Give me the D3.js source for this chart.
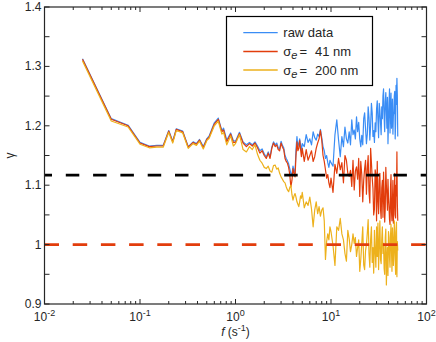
<!DOCTYPE html>
<html lang="en">
<head>
<meta charset="UTF-8">
<title>gamma vs f</title>
<style>
  body { margin: 0; background: #fff; }
  text { font-family: "Liberation Sans", Arial, sans-serif; fill: #262626; }
</style>
</head>
<body>
<svg id="chart" width="436" height="342"></svg>
<script src="https://cdn.jsdelivr.net/npm/d3@7"></script>
<script>
// frequencies (s^-1)
const freq = [
  0.025, 0.05, 0.075, 0.1, 0.125, 0.15, 0.175, 0.2, 0.22, 0.24, 0.28, 0.32, 0.36, 0.39, 0.42, 0.46, 0.5, 0.53, 0.6, 0.66, 0.72, 0.75, 0.81, 0.89, 0.95,
  1.0, 1.1, 1.2, 1.3, 1.4, 1.5, 1.6, 1.7, 1.8, 1.9, 2.0, 2.1, 2.2, 2.3, 2.4, 2.5, 2.6, 2.7, 2.8, 2.9, 3.0, 3.1, 3.2, 3.3, 3.4, 3.5, 3.6, 3.7, 3.8, 3.9, 4.0, 4.1, 4.2, 4.3, 4.4, 4.5, 4.6, 4.7, 4.8, 4.9, 5.0,
  5.25, 5.5, 5.75, 6.0, 6.25, 6.5, 6.75, 7.0, 7.25, 7.5, 7.75, 8.0, 8.25, 8.5, 8.75, 9.0, 9.25, 9.5, 9.75, 10,
  10.5, 11, 11.5, 12, 12.5, 13, 13.5, 14, 14.5, 15, 15.5, 16, 16.5, 17, 17.5, 18, 18.5, 19, 19.5, 20,
  20.5, 21, 21.5, 22, 22.5, 23, 23.5, 24, 24.5, 25, 25.5, 26, 26.5, 27, 27.5, 28, 28.5, 29, 29.5, 30,
  30.5, 31, 31.5, 32, 32.5, 33, 33.5, 34, 34.5, 35, 35.5, 36, 36.5, 37, 37.5, 38, 38.5, 39, 39.5, 40,
  40.5, 41, 41.5, 42, 42.5, 43, 43.5, 44, 44.5, 45, 45.5, 46, 46.5, 47, 47.5, 48, 48.5, 49, 49.5, 50
];

const rawData = [
  1.313, 1.212, 1.201, 1.172, 1.166, 1.167, 1.167, 1.192, 1.174, 1.195, 1.191, 1.165, 1.173, 1.170, 1.177, 1.165, 1.178, 1.183, 1.205, 1.213, 1.192, 1.196, 1.176, 1.188, 1.175,
  1.174, 1.189, 1.173, 1.168, 1.172, 1.168, 1.173, 1.166, 1.158, 1.161, 1.153, 1.147, 1.156, 1.148, 1.164, 1.173, 1.168, 1.171, 1.163, 1.161, 1.174, 1.167, 1.163, 1.150, 1.145, 1.141, 1.136, 1.128, 1.120, 1.118, 1.132, 1.125, 1.121, 1.160, 1.182, 1.165, 1.170, 1.178, 1.168, 1.158, 1.170,
  1.165, 1.185, 1.172, 1.178, 1.168, 1.190, 1.180, 1.176, 1.186, 1.182, 1.194, 1.180, 1.165, 1.158, 1.145, 1.150, 1.138, 1.130, 1.142, 1.138,
  1.132, 1.185, 1.210, 1.176, 1.148, 1.182, 1.165, 1.198, 1.178, 1.171, 1.190, 1.168, 1.210, 1.185, 1.193, 1.178, 1.215, 1.190, 1.206, 1.178,
  1.165, 1.184, 1.168, 1.212, 1.222, 1.195, 1.170, 1.186, 1.232, 1.214, 1.176, 1.200, 1.238, 1.222, 1.182, 1.192, 1.172, 1.205, 1.190, 1.228,
  1.242, 1.210, 1.180, 1.238, 1.226, 1.205, 1.185, 1.232, 1.212, 1.250, 1.262, 1.215, 1.190, 1.240, 1.256, 1.225, 1.196, 1.248, 1.170, 1.205,
  1.238, 1.262, 1.188, 1.230, 1.255, 1.196, 1.210, 1.245, 1.186, 1.218, 1.222, 1.250, 1.258, 1.178, 1.205, 1.268, 1.236, 1.280, 1.250, 1.182
];

const sigma41 = [
  1.312, 1.211, 1.200, 1.171, 1.165, 1.166, 1.166, 1.191, 1.173, 1.194, 1.190, 1.164, 1.172, 1.169, 1.176, 1.163, 1.177, 1.181, 1.203, 1.211, 1.190, 1.193, 1.173, 1.186, 1.172,
  1.172, 1.187, 1.171, 1.165, 1.170, 1.166, 1.171, 1.163, 1.154, 1.158, 1.150, 1.145, 1.154, 1.145, 1.162, 1.171, 1.165, 1.168, 1.160, 1.158, 1.171, 1.164, 1.160, 1.145, 1.140, 1.137, 1.130, 1.118, 1.097, 1.108, 1.128, 1.120, 1.114, 1.150, 1.173, 1.158, 1.162, 1.175, 1.160, 1.148, 1.162,
  1.140, 1.160, 1.142, 1.150, 1.158, 1.140, 1.148, 1.162, 1.171, 1.178, 1.192, 1.176, 1.150, 1.140, 1.126, 1.112, 1.118, 1.104, 1.096, 1.112,
  1.088, 1.135, 1.120, 1.145, 1.126, 1.138, 1.104, 1.150, 1.142, 1.120, 1.115, 1.125, 1.098, 1.142, 1.092, 1.124, 1.131, 1.110, 1.145, 1.081,
  1.140, 1.118, 1.072, 1.108, 1.128, 1.142, 1.085, 1.128, 1.150, 1.090, 1.070, 1.162, 1.138, 1.112, 1.095, 1.050, 1.060, 1.126, 1.118, 1.040,
  1.140, 1.075, 1.052, 1.110, 1.120, 1.060, 1.044, 1.095, 1.108, 1.046, 1.122, 1.088, 1.038, 1.062, 1.130, 1.100, 1.080, 1.058, 1.110, 1.080,
  1.064, 1.042, 1.034, 1.096, 1.118, 1.055, 1.040, 1.072, 1.108, 1.036, 1.060, 1.085, 1.120, 1.050, 1.045, 1.100, 1.082, 1.156, 1.070, 1.040
];

const sigma200 = [
  1.309, 1.208, 1.198, 1.169, 1.163, 1.164, 1.164, 1.189, 1.171, 1.192, 1.188, 1.162, 1.170, 1.167, 1.174, 1.161, 1.175, 1.179, 1.200, 1.208, 1.186, 1.189, 1.168, 1.183, 1.166,
  1.170, 1.185, 1.160, 1.156, 1.165, 1.160, 1.168, 1.152, 1.142, 1.137, 1.130, 1.128, 1.132, 1.124, 1.122, 1.133, 1.134, 1.127, 1.129, 1.120, 1.114, 1.110, 1.106, 1.104, 1.097, 1.092, 1.089, 1.096, 1.100, 1.084, 1.075, 1.082, 1.086, 1.080, 1.072, 1.068, 1.064, 1.072, 1.082, 1.078, 1.088,
  1.062, 1.072, 1.066, 1.080, 1.060, 1.030, 1.058, 1.072, 1.052, 1.064, 1.048, 1.058, 1.062, 1.040, 0.975, 1.005, 1.018, 1.008, 1.030, 1.022,
  0.998, 0.965, 1.030, 1.024, 1.044, 1.018, 1.008, 0.985, 0.972, 1.024, 1.010, 0.988, 1.000, 1.018, 1.002, 1.012, 0.980, 0.995, 1.008, 0.955,
  0.975, 1.002, 1.030, 0.966, 0.958, 0.990, 1.000, 1.020, 1.042, 0.985, 0.962, 1.008, 1.030, 0.970, 0.995, 0.952, 1.024, 0.988, 0.962, 1.030,
  0.980, 1.036, 0.958, 1.002, 1.040, 0.975, 0.968, 1.010, 1.030, 0.985, 1.002, 0.960, 0.950, 1.012, 1.026, 0.932, 0.970, 0.995, 0.948, 1.022,
  1.012, 0.978, 0.962, 1.015, 1.034, 0.990, 0.955, 1.028, 1.010, 0.965, 0.985, 1.040, 1.022, 0.975, 0.950, 1.020, 1.038, 0.946, 1.005, 0.990
];

const seriesNames = ["raw data", "41 nm", "200 nm"];
const seriesColors = ["#3a8df5", "#e23d0c", "#edb11c"];
const xExponents = [-2, -1, 0, 1, 2];
const yTicks = [0.9, 1, 1.1, 1.2, 1.3, 1.4];
const refLevels = [1.117, 1.0]; // black dashed, red dashed

const margin = { top: 7, right: 9.5, bottom: 38, left: 44.5 };
const W = 436, H = 342;
const svg = d3.select("#chart");

const x = d3.scaleLog().domain([0.01, 100]).range([margin.left, W - margin.right]);
const y = d3.scaleLinear().domain([0.9, 1.4]).range([H - margin.bottom, margin.top]);

const axisColor = "#262626";
const x0 = x.range()[0], x1 = x.range()[1];
const y0 = y.range()[0], y1 = y.range()[1];

// data lines
const line = d3.line().x(d => x(d[0])).y(d => y(d[1]));
[rawData, sigma41, sigma200].forEach((vals, i) => {
  svg.append("path")
    .datum(freq.map((f, j) => [f, vals[j]]))
    .attr("fill", "none")
    .attr("stroke", seriesColors[i])
    .attr("stroke-width", 1.2)
    .attr("stroke-linejoin", "round")
    .attr("d", line);
});

// reference dashed lines
svg.append("line")
  .attr("x1", x0).attr("x2", x1)
  .attr("y1", y(refLevels[0])).attr("y2", y(refLevels[0]))
  .attr("stroke", "#000").attr("stroke-width", 2.6)
  .attr("stroke-dasharray", "13.5,13.8").attr("stroke-dashoffset", 6);
svg.append("line")
  .attr("x1", x0).attr("x2", x1)
  .attr("y1", y(refLevels[1])).attr("y2", y(refLevels[1]))
  .attr("stroke", seriesColors[1]).attr("stroke-width", 2.6)
  .attr("stroke-dasharray", "14.5,13.7");

// box
svg.append("rect")
  .attr("x", x0).attr("y", y1)
  .attr("width", x1 - x0).attr("height", y0 - y1)
  .attr("fill", "none").attr("stroke", axisColor).attr("stroke-width", 1.2);

// x ticks (log), inward on bottom & top
const g = svg.append("g").attr("stroke", axisColor).attr("stroke-width", 1);
x.ticks().forEach(t => {
  const major = Math.abs(Math.log10(t) - Math.round(Math.log10(t))) < 1e-9;
  const len = major ? 5 : 3;
  g.append("line").attr("x1", x(t)).attr("x2", x(t)).attr("y1", y0).attr("y2", y0 - len);
  g.append("line").attr("x1", x(t)).attr("x2", x(t)).attr("y1", y1).attr("y2", y1 + len);
});
// y ticks every 0.05, inward on left & right
d3.range(0.9, 1.4001, 0.05).forEach(t => {
  g.append("line").attr("x1", x0).attr("x2", x0 + 5).attr("y1", y(t)).attr("y2", y(t));
  g.append("line").attr("x1", x1).attr("x2", x1 - 5).attr("y1", y(t)).attr("y2", y(t));
});

// y tick labels
svg.selectAll(".ylab").data(yTicks).enter().append("text")
  .attr("x", x0 - 3).attr("y", d => y(d) + 4)
  .attr("text-anchor", "end").attr("font-size", 12)
  .text(d => d3.format("~g")(d));

// x tick labels 10^n
xExponents.forEach(e => {
  const t = svg.append("text")
    .attr("x", x(Math.pow(10, e))).attr("y", 320.5)
    .attr("text-anchor", "middle").attr("font-size", 12);
  t.append("tspan").text("10");
  t.append("tspan").attr("font-size", 9).attr("dy", -5).text(String(e));
});

// axis labels
const xl = svg.append("text").attr("x", x(1)).attr("y", 336)
  .attr("text-anchor", "middle").attr("font-size", 12);
xl.append("tspan").attr("font-style", "italic").text("f");
xl.append("tspan").text(" (s");
xl.append("tspan").attr("font-size", 9).attr("dy", -5).text("-1");
xl.append("tspan").attr("dy", 5).text(")");

svg.append("text")
  .attr("transform", "translate(14," + y(1.15) + ") rotate(-90)")
  .attr("text-anchor", "middle").attr("font-size", 12)
  .text("γ");

// legend
const lg = svg.append("g");
lg.append("rect")
  .attr("x", 226.5).attr("y", 16.5).attr("width", 146).attr("height", 69)
  .attr("fill", "#fff").attr("stroke", "#000").attr("stroke-width", 1.2);
const rows = [32.7, 51.5, 70];
seriesNames.forEach((name, i) => {
  lg.append("line")
    .attr("x1", 243.3).attr("x2", 277.7).attr("y1", rows[i]).attr("y2", rows[i])
    .attr("stroke", seriesColors[i]).attr("stroke-width", 1.3);
  if (i === 0) {
    lg.append("text").attr("x", 283.3).attr("y", rows[i] + 4.5)
      .attr("font-size", 13).text(name);
  } else {
    const t = lg.append("text").attr("x", 283.3).attr("y", rows[i] + 4.5).attr("font-size", 13);
    t.append("tspan").text("σ");
    t.append("tspan").attr("font-style", "italic").attr("font-size", 11).attr("dy", 3).text("e");
    t.append("tspan").attr("dy", -3).attr("dx", 2).text("=");
    lg.append("text").attr("x", 315).attr("y", rows[i] + 4.5)
      .attr("font-size", 13).text(name);
  }
});
</script>
</body>
</html>
